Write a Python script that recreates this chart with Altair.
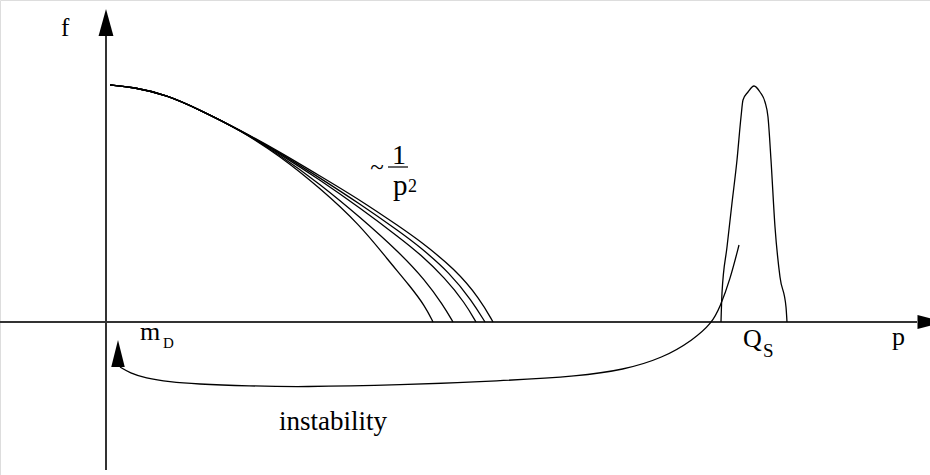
import altair as alt
import pandas as pd

# ---- momentum distribution: common soft part, then a fan of tails ~ 1/p^2 ----
head_p = [4, 27, 61, 94, 134]
head_f = [237, 235, 227, 212, 192]

tail_ids = ["t1", "t2", "t3", "t4", "t5"]
tail_p = [
    [174, 214, 254, 282, 304, 319, 327],
    [174, 214, 254, 294, 319, 337, 347],
    [174, 214, 254, 294, 314, 339, 359, 370],
    [174, 214, 254, 294, 314, 344, 366, 379],
    [174, 214, 254, 294, 314, 349, 374, 387],
]
tail_f = [
    [166, 134, 97, 62, 36, 16, 0],
    [167, 138, 105, 69, 42, 17, 0],
    [168, 142, 114, 84, 68, 44, 19, 0],
    [169, 144, 118, 90, 75, 49, 21, 0],
    [170, 146, 122, 95, 81, 53, 23, 0],
]

# ---- narrow peak around the saturation scale Q_s ----
peak_p = [615, 616, 621, 626, 631, 635, 637, 642, 648, 654, 659, 662, 665, 669, 674, 680, 681]
peak_f = [0, 29, 75, 119, 162, 205, 222, 230, 236, 230, 220, 205, 162, 95, 45, 15, 0]

# ---- instability path from the peak back down to m_D ----
inst_p = [14, 24, 39, 64, 89, 144, 194, 294, 394, 474, 517, 557, 587, 606, 614, 624, 633]
inst_f = [-45, -51, -56, -60, -62, -64, -65, -63, -59, -54, -48, -36, -18, -1, 15, 42, 77]

# ---- axes ----
p_axis_from, p_axis_to = -106, 811
f_axis_from, f_axis_to = -148, 286

# ---- labels ----
lab_text = ["f", "m", "D", "Q", "S", "p", "instability", "~", "1", "p", "2"]
lab_p = [-45, 34, 57, 637, 657, 786, 227, 271, 293, 287, 302]
lab_f = [286, -18, -26, -25, -35, -23, -108, 147, 158, 127, 130]
lab_size = [25, 26, 15, 26, 19, 26, 27, 25, 28, 29, 18]
lab_align = ["left", "left", "left", "left", "left", "left", "center", "center", "center", "left", "left"]

X_DOM = [-106, 824]
Y_DOM = [-153, 322]

def xs(field="p"):
    return alt.X(f"{field}:Q", scale=alt.Scale(domain=X_DOM), axis=None)

def ys(field="f"):
    return alt.Y(f"{field}:Q", scale=alt.Scale(domain=Y_DOM), axis=None)

rows = []
for cid, tp, tf in zip(tail_ids, tail_p, tail_f):
    for k, (p, f) in enumerate(zip(head_p + tp, head_f + tf)):
        rows.append({"curve": cid, "p": p, "f": f, "k": k})
fan = pd.DataFrame(rows)

fan_layer = alt.Chart(fan).mark_line(
    color="black", strokeWidth=1.3, interpolate="basis"
).encode(x=xs(), y=ys(), detail="curve:N", order="k:Q")

peak_df = pd.DataFrame({"p": peak_p, "f": peak_f, "k": range(len(peak_p))})
peak_layer = alt.Chart(peak_df).mark_line(
    color="black", strokeWidth=1.3, interpolate="monotone"
).encode(x=xs(), y=ys(), order="k:Q")

inst_df = pd.DataFrame({"p": inst_p, "f": inst_f, "k": range(len(inst_p))})
inst_layer = alt.Chart(inst_df).mark_line(
    color="black", strokeWidth=1.3, interpolate="basis"
).encode(x=xs(), y=ys(), order="k:Q")

h_axis = alt.Chart(pd.DataFrame({"p": [p_axis_from], "p2": [p_axis_to], "f": [0]})).mark_rule(
    color="#333333", strokeWidth=2
).encode(x=xs(), x2="p2:Q", y=ys())

v_axis = alt.Chart(pd.DataFrame({"p": [0], "f": [f_axis_from], "f2": [f_axis_to]})).mark_rule(
    color="#333333", strokeWidth=2
).encode(x=xs(), y=ys(), y2="f2:Q")

# arrow heads: tip of the f axis, tip of the p axis, end of the instability path
heads = pd.DataFrame({
    "p": [0, 825, 12],
    "f": [299.5, 0, -31.5],
    "shape": ["M0,-1L0.55,1L-0.55,1Z", "M1,0L-1,0.52L-1,-0.52Z", "M0,-1L0.5,1L-0.5,1Z"],
})
head_layer = alt.Chart(heads).mark_point(
    filled=True, color="black", opacity=1, size=729, strokeWidth=0
).encode(x=xs(), y=ys(), shape=alt.Shape("shape:N", scale=None))

# fraction bar of ~ 1/p^2
bar = alt.Chart(pd.DataFrame({"p": [282], "p2": [302], "f": [155]})).mark_rule(
    color="black", strokeWidth=1.2
).encode(x=xs(), x2="p2:Q", y=ys())

labels = pd.DataFrame({
    "text": lab_text, "p": lab_p, "f": lab_f, "size": lab_size, "align": lab_align,
})
text_layers = []
for al in ["left", "center"]:
    sub = labels[labels["align"] == al]
    text_layers.append(
        alt.Chart(sub).mark_text(
            font="Liberation Serif", color="black", align=al, baseline="alphabetic"
        ).encode(
            x=xs(), y=ys(), text="text:N",
            size=alt.Size("size:Q", scale=None, legend=None),
        )
    )

chart = alt.layer(
    h_axis, v_axis, fan_layer, peak_layer, inst_layer, head_layer, bar, *text_layers
).properties(
    width=930, height=475, padding=0, autosize=alt.AutoSizeParams(type="none")
).configure_view(stroke=None).configure(background="white")

chart.save("out.html", embed_options={"renderer": "svg", "actions": False})
